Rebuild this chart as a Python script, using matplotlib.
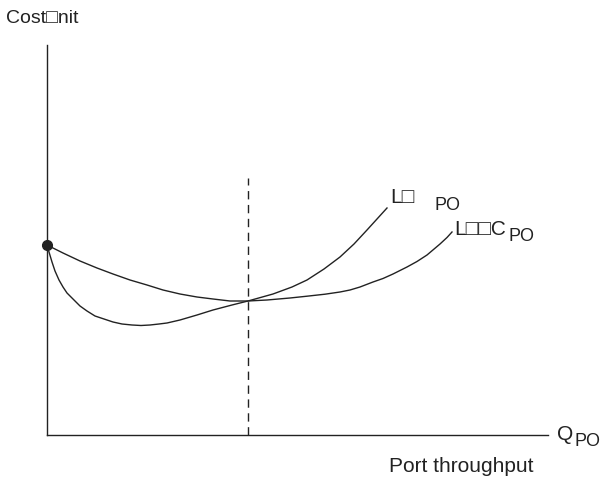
import matplotlib
matplotlib.use('Agg')
import matplotlib.pyplot as plt

# curve readings (x = throughput, y = cost per unit)
lo_x = [0, 2, 5, 8, 12, 16, 20, 25, 33, 40, 48, 57, 66, 75, 85, 94, 103, 112, 120, 133, 150, 166, 185, 201, 226, 245, 260, 277, 293, 307, 320, 330, 340]
lo_y = [190, 183, 173, 164, 155, 148, 142, 137, 129, 124, 119, 116, 113, 111, 110, 109.5, 110, 111, 112, 115, 120, 125, 130, 134, 141, 148, 155, 166, 178, 191, 205, 216, 227]
lmc_x = [0, 16, 33, 50, 66, 83, 100, 116, 133, 150, 166, 183, 201, 220, 243, 260, 278, 293, 303, 313, 326, 336, 346, 360, 370, 380, 393, 400, 405]
lmc_y = [190, 182, 174, 167, 161, 155, 150, 145, 141, 138, 136, 134, 134, 135, 137, 138.8, 140.8, 143, 145, 148, 153, 156.5, 161, 168, 173.5, 180, 191, 197.5, 203]
q_star = 201
dash_top = 257
start_cost = 190

fig = plt.figure(figsize=(6, 4.79), dpi=100)
ax = fig.add_axes([47/600, 44/479, 501/600, 390/479])
ax.set_xlim(0, 501)
ax.set_ylim(0, 390)
ax.spines['top'].set_visible(False)
ax.spines['right'].set_visible(False)
for s in ['left', 'bottom']:
    ax.spines[s].set_linewidth(1.0)
    ax.spines[s].set_color('#222222')
ax.set_xticks([]); ax.set_yticks([])

ax.plot(lo_x, lo_y, color='#222222', lw=1.0)
ax.plot(lmc_x, lmc_y, color='#222222', lw=1.0)
ax.plot([q_star, q_star], [0, dash_top], color='#222222', lw=1.0, ls=(0, (6, 4)))
ax.plot([0], [start_cost], 'o', color='#222222', ms=7, clip_on=False, zorder=5)

font = ['Liberation Sans', 'DejaVu Sans']
def label(x, y, s, size):
    fig.text(x/600, 1 - y/479, s, fontsize=size, family=font, va='baseline', ha='left', color='#222222')

label(6, 23, 'Cost\u25a1nit', 14)
label(389, 472, 'Port throughput', 15)
label(557, 440, 'Q', 15)
label(575, 446, 'PO', 13)
label(390, 203, 'L\u25a1', 15)
label(434, 210, 'PO', 13)
label(454, 235, 'L\u25a1\u25a1C', 15)
label(508, 241, 'PO', 13)

fig.savefig('out.png', dpi=100, facecolor='white')
